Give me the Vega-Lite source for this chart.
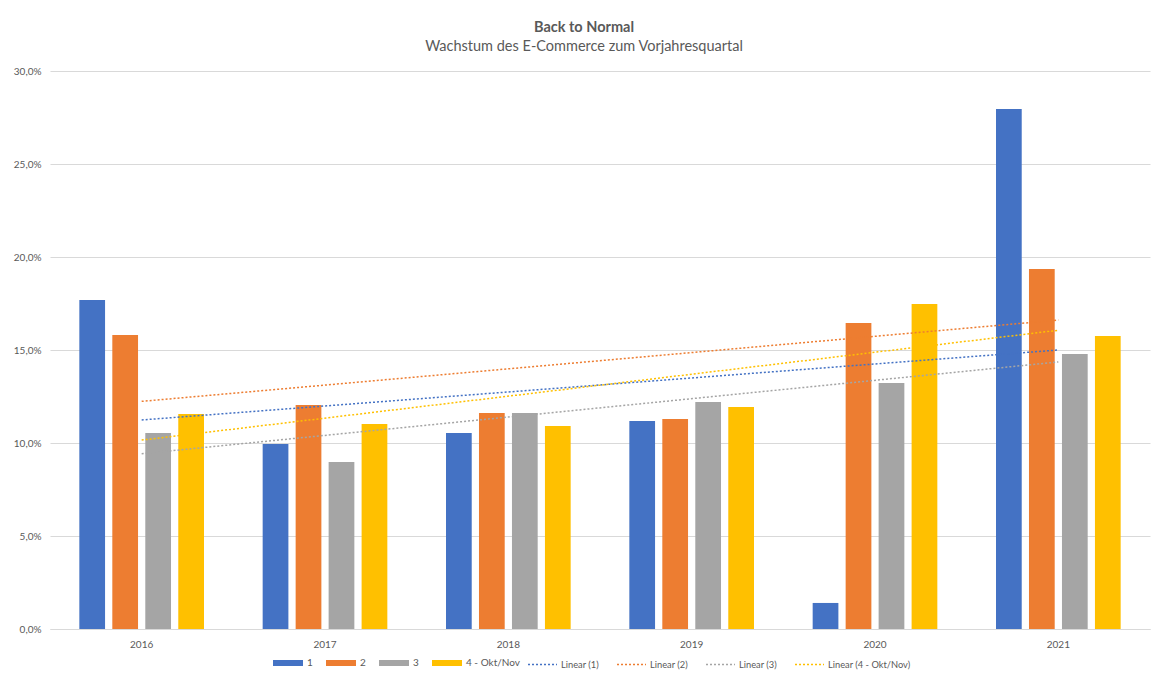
{
  "$schema": "https://vega.github.io/schema/vega-lite/v6.json",
  "width": 1100,
  "height": 558,
  "autosize": {"type": "none"},
  "padding": {"left": 50, "top": 71, "right": 4, "bottom": 48},
  "background": "white",
  "title": {
    "text": "Back to Normal",
    "subtitle": "Wachstum des E-Commerce zum Vorjahresquartal",
    "anchor": "middle",
    "dx": -16,
    "offset": 12,
    "font": "Lato",
    "fontSize": 14.5,
    "fontWeight": "bold",
    "color": "#595959",
    "subtitleFont": "Lato",
    "subtitleFontSize": 14.5,
    "subtitleColor": "#595959",
    "subtitlePadding": 4
  },
  "data": {
    "values": [
      {"year": 2016, "series": "1", "trend": "Linear (1)", "value": 0.1769},
      {"year": 2016, "series": "2", "trend": "Linear (2)", "value": 0.1581},
      {"year": 2016, "series": "3", "trend": "Linear (3)", "value": 0.1054},
      {"year": 2016, "series": "4 - Okt/Nov", "trend": "Linear (4 - Okt/Nov)", "value": 0.1156},
      {"year": 2017, "series": "1", "trend": "Linear (1)", "value": 0.0995},
      {"year": 2017, "series": "2", "trend": "Linear (2)", "value": 0.1204},
      {"year": 2017, "series": "3", "trend": "Linear (3)", "value": 0.0898},
      {"year": 2017, "series": "4 - Okt/Nov", "trend": "Linear (4 - Okt/Nov)", "value": 0.1102},
      {"year": 2018, "series": "1", "trend": "Linear (1)", "value": 0.1054},
      {"year": 2018, "series": "2", "trend": "Linear (2)", "value": 0.1161},
      {"year": 2018, "series": "3", "trend": "Linear (3)", "value": 0.1161},
      {"year": 2018, "series": "4 - Okt/Nov", "trend": "Linear (4 - Okt/Nov)", "value": 0.1091},
      {"year": 2019, "series": "1", "trend": "Linear (1)", "value": 0.1118},
      {"year": 2019, "series": "2", "trend": "Linear (2)", "value": 0.1129},
      {"year": 2019, "series": "3", "trend": "Linear (3)", "value": 0.1220},
      {"year": 2019, "series": "4 - Okt/Nov", "trend": "Linear (4 - Okt/Nov)", "value": 0.1194},
      {"year": 2020, "series": "1", "trend": "Linear (1)", "value": 0.0140},
      {"year": 2020, "series": "2", "trend": "Linear (2)", "value": 0.1645},
      {"year": 2020, "series": "3", "trend": "Linear (3)", "value": 0.1323},
      {"year": 2020, "series": "4 - Okt/Nov", "trend": "Linear (4 - Okt/Nov)", "value": 0.1747},
      {"year": 2021, "series": "1", "trend": "Linear (1)", "value": 0.2796},
      {"year": 2021, "series": "2", "trend": "Linear (2)", "value": 0.1935},
      {"year": 2021, "series": "3", "trend": "Linear (3)", "value": 0.1478},
      {"year": 2021, "series": "4 - Okt/Nov", "trend": "Linear (4 - Okt/Nov)", "value": 0.1575}
    ]
  },
  "layer": [
    {
      "mark": {"type": "bar"},
      "encoding": {
        "x": {
          "field": "year",
          "type": "ordinal",
          "scale": {"paddingInner": 0.32, "paddingOuter": 0.16},
          "axis": {
            "title": null,
            "labelAngle": 0,
            "ticks": false,
            "domainColor": "#d9d9d9",
            "labelColor": "#595959",
            "labelFont": "Lato",
            "labelFontSize": 10,
            "labelPadding": 10
          }
        },
        "xOffset": {
          "field": "series",
          "type": "nominal",
          "scale": {"paddingInner": 0.22, "paddingOuter": 0}
        },
        "y": {
          "field": "value",
          "type": "quantitative",
          "scale": {"domain": [0, 0.3], "nice": false},
          "axis": {
            "title": null,
            "values": [0, 0.05, 0.1, 0.15, 0.2, 0.25, 0.3],
            "format": ".1%",
            "domain": false,
            "ticks": false,
            "gridColor": "#d9d9d9",
            "labelColor": "#595959",
            "labelFont": "Lato",
            "labelFontSize": 10,
            "labelPadding": 9
          }
        },
        "fill": {
          "field": "series",
          "type": "nominal",
          "scale": {
            "domain": ["1", "2", "3", "4 - Okt/Nov"],
            "range": ["#4472C4", "#ED7D31", "#A5A5A5", "#FFC000"]
          },
          "legend": {
            "title": null,
            "orient": "none",
            "direction": "horizontal",
            "legendX": 223,
            "legendY": 577,
            "symbolType": "M-1,-0.2H1V0.2H-1Z",
            "symbolSize": 900,
            "symbolStrokeWidth": 0,
            "labelFont": "Lato",
            "labelFontSize": 10,
            "labelColor": "#595959",
            "labelOffset": 4,
            "columnPadding": 13
          }
        }
      }
    },
    {
      "transform": [
        {"regression": "value", "on": "year", "groupby": ["trend"], "extent": [2016, 2021]}
      ],
      "mark": {"type": "line", "strokeDash": [2, 2], "strokeWidth": 1.5},
      "encoding": {
        "x": {"field": "year", "type": "ordinal", "bandPosition": 0.5},
        "y": {"field": "value", "type": "quantitative"},
        "stroke": {
          "field": "trend",
          "type": "nominal",
          "scale": {
            "domain": ["Linear (1)", "Linear (2)", "Linear (3)", "Linear (4 - Okt/Nov)"],
            "range": ["#4472C4", "#ED7D31", "#A5A5A5", "#FFC000"]
          },
          "legend": {
            "title": null,
            "orient": "none",
            "direction": "horizontal",
            "legendX": 477,
            "legendY": 578,
            "symbolType": "stroke",
            "symbolSize": 841,
            "symbolStrokeWidth": 1.5,
            "symbolDash": [2, 2],
            "labelFont": "Lato",
            "labelFontSize": 9.3,
            "labelColor": "#595959",
            "labelOffset": 3,
            "columnPadding": 15
          }
        }
      }
    }
  ],
  "config": {
    "locale": {"number": {"decimal": ",", "thousands": ".", "grouping": [3], "currency": ["", " €"]}},
    "view": {"stroke": null}
  }
}
